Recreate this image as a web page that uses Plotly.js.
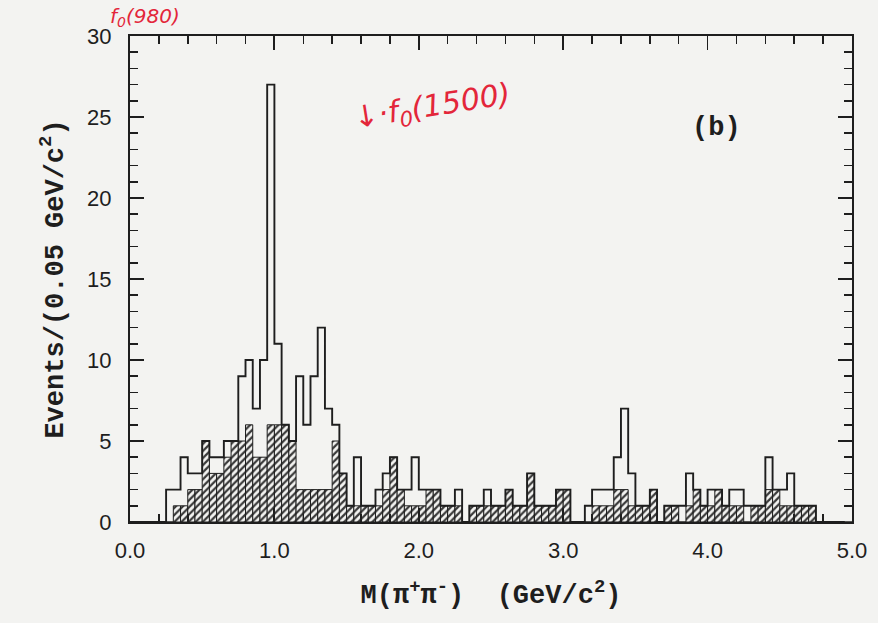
<!DOCTYPE html>
<html>
<head>
<meta charset="utf-8">
<script src="https://cdn.plot.ly/plotly-3.0.1.min.js"></script>
<style>html,body{margin:0;padding:0;background:#f3f3f1;}</style>
</head>
<body>
<div id="chart" style="width:878px;height:623px;"></div>
<script>
// Histogram binning: 100 bins of 0.05 GeV/c^2 from 0.0 to 5.0
const binStart = 0.0;
const binWidth = 0.05;

// Open histogram (all events), one value per bin starting at 0.00
const totalCounts = [
  0, 0, 0, 0, 0, 2, 2, 4, 3, 3,
  5, 4, 4, 5, 5, 9, 10, 7, 10, 27,
  11, 6, 5, 9, 6, 9, 12, 7, 6, 3,
  1, 4, 1, 1, 2, 3, 4, 2, 2, 4,
  2, 2, 2, 1, 1, 2, 0, 1, 1, 2,
  1, 1, 2, 1, 1, 3, 1, 1, 1, 2,
  2, 0, 0, 1, 2, 2, 2, 4, 7, 3,
  1, 1, 2, 0, 1, 1, 1, 3, 2, 1,
  2, 2, 1, 2, 2, 1, 1, 1, 4, 2,
  2, 3, 1, 1, 1, 0, 0, 0, 0, 0
];

// Hatched histogram (background), one value per bin starting at 0.00
const hatchedCounts = [
  0, 0, 0, 0, 0, 0, 1, 1, 2, 2,
  5, 3, 3, 4, 5, 5, 6, 4, 4, 6,
  6, 6, 5, 2, 2, 2, 2, 2, 5, 3,
  1, 1, 1, 1, 1, 2, 4, 2, 1, 1,
  1, 2, 2, 1, 1, 1, 0, 1, 1, 1,
  1, 1, 2, 1, 1, 3, 1, 1, 1, 2,
  2, 0, 0, 0, 1, 1, 1, 2, 2, 1,
  1, 1, 2, 0, 1, 1, 0, 1, 2, 1,
  1, 2, 1, 1, 1, 0, 1, 1, 2, 2,
  1, 1, 1, 1, 1, 0, 0, 0, 0, 0
];

const xTickVals = [0, 1, 2, 3, 4, 5];
const xTickText = ["0.0", "1.0", "2.0", "3.0", "4.0", "5.0"];
const yTickVals = [0, 5, 10, 15, 20, 25, 30];
const yTickText = ["0", "5", "10", "15", "20", "25", "30"];

const ink = '#1e1e1e';
const red = '#e3263a';
const bg = '#f3f3f1';

const hatched = {
  type: 'bar',
  y: hatchedCounts,
  x0: binStart + binWidth / 2,
  dx: binWidth,
  width: binWidth,
  marker: {
    color: bg,
    line: {color: ink, width: 1},
    pattern: {shape: '/', fgcolor: '#3a3a3a', bgcolor: bg, size: 5, solidity: 0.45}
  },
  hoverinfo: 'skip',
  showlegend: false
};

const openHist = {
  type: 'scatter',
  mode: 'lines',
  y: totalCounts,
  x0: binStart,
  dx: binWidth,
  line: {shape: 'hv', color: ink, width: 1.9},
  hoverinfo: 'skip',
  showlegend: false
};

const monoTitle = {family: '"Liberation Mono", "DejaVu Sans Mono", monospace', size: 27, color: ink};

const layout = {
  width: 878,
  height: 623,
  margin: {l: 130, r: 26, t: 36, b: 101},
  paper_bgcolor: bg,
  plot_bgcolor: bg,
  bargap: 0,
  showlegend: false,
  xaxis: {
    range: [0, 5],
    tickvals: xTickVals,
    ticktext: xTickText,
    ticks: 'inside',
    ticklen: 14,
    tickwidth: 1.8,
    tickcolor: ink,
    ticklabelstandoff: 8,
    minor: {dtick: 0.2, ticks: 'inside', ticklen: 8, tickwidth: 1.5, tickcolor: ink},
    showline: true,
    linewidth: 2,
    linecolor: ink,
    mirror: 'allticks',
    showgrid: false,
    zeroline: false,
    tickfont: {family: '"Liberation Sans", Arial, sans-serif', size: 22, color: ink},
    title: {text: '<b>M(π<sup>+</sup>π<sup>-</sup>)  (GeV/c<sup>2</sup>)</b>', font: monoTitle, standoff: 22}
  },
  yaxis: {
    range: [0, 30],
    tickvals: yTickVals,
    ticktext: yTickText,
    ticks: 'inside',
    ticklen: 14,
    tickwidth: 1.8,
    tickcolor: ink,
    ticklabelstandoff: 12,
    minor: {dtick: 1, ticks: 'inside', ticklen: 8, tickwidth: 1.5, tickcolor: ink},
    showline: true,
    linewidth: 2,
    linecolor: ink,
    mirror: 'allticks',
    showgrid: false,
    zeroline: false,
    tickfont: {family: '"Liberation Sans", Arial, sans-serif', size: 22, color: ink},
    title: {text: '<b>Events/(0.05 GeV/c<sup>2</sup>)</b>', font: monoTitle, standoff: 16}
  },
  annotations: [
    {
      xref: 'paper', yref: 'paper', x: 0.813, y: 0.811, xanchor: 'center', yanchor: 'middle',
      text: '<b>(b)</b>', showarrow: false,
      font: {family: '"Liberation Mono", monospace', size: 27, color: ink}
    },
    {
      xref: 'paper', yref: 'paper', x: 0.418, y: 0.852, xanchor: 'center', yanchor: 'middle',
      text: '↓·f<sub>0</sub>(1500)', showarrow: false, textangle: -9,
      font: {family: '"DejaVu Sans", sans-serif', size: 30, color: red, style: 'italic'}
    },
    {
      xref: 'paper', yref: 'paper', x: 0.021, y: 1.07, xanchor: 'center', yanchor: 'top',
      text: 'f<sub>0</sub>(980)', showarrow: false,
      font: {family: '"DejaVu Sans", sans-serif', size: 20, color: red, style: 'italic'}
    }
  ]
};

Plotly.newPlot('chart', [hatched, openHist], layout, {displayModeBar: false, staticPlot: true});
</script>
</body>
</html>
